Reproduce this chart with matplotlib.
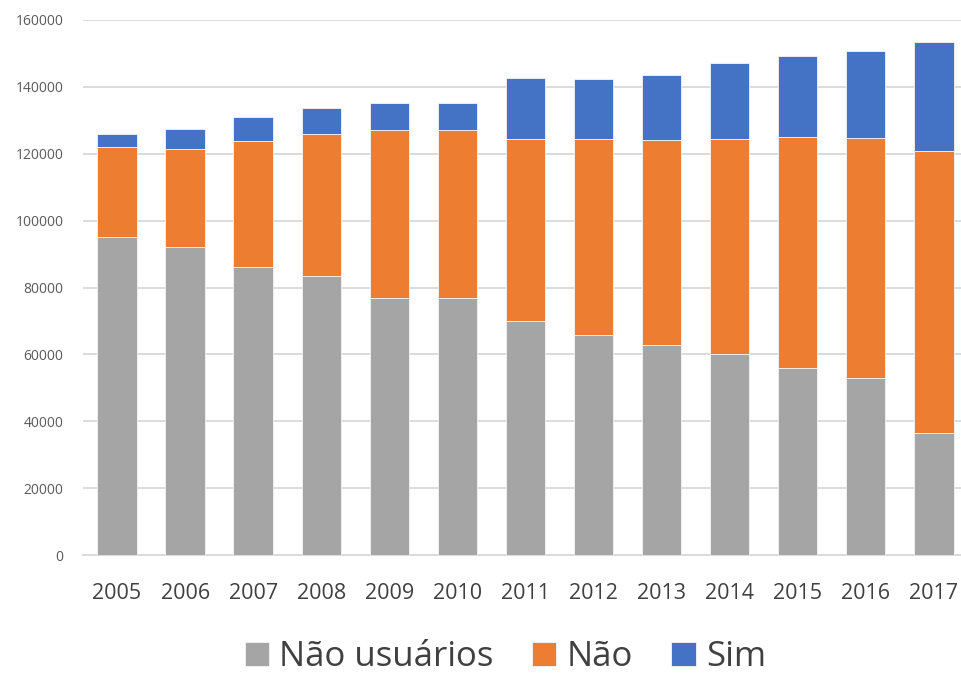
import numpy as np
import matplotlib.pyplot as plt

plt.rcParams['font.family'] = ['Open Sans', 'DejaVu Sans']

anos = ['2005', '2006', '2007', '2008', '2009', '2010', '2011',
        '2012', '2013', '2014', '2015', '2016', '2017']
nao_usuarios = [95100, 92000, 86100, 83500, 76800, 76800, 70000,
                65800, 62700, 60200, 55800, 53000, 36400]
nao = [26800, 29400, 37600, 42300, 50200, 50200, 54300,
       58600, 61500, 64200, 69300, 71700, 84400]
sim = [3900, 6000, 7400, 8000, 8300, 8300, 18300,
       17900, 19300, 22700, 24200, 25900, 32500]

cores = ['#A5A5A5', '#ED7D31', '#4472C4']

fig = plt.figure(figsize=(9.61, 6.73), dpi=100)
ax = fig.add_axes([0.0864, 0.1753, 0.9136, 0.795])

x = np.arange(len(anos))
base = np.zeros(len(anos))
for vals, nome, cor in zip([nao_usuarios, nao, sim], ['Não usuários', 'Não', 'Sim'], cores):
    ax.bar(x, vals, width=0.58, bottom=base, color=cor, label=nome,
           edgecolor='#f4f4f4', linewidth=0.6, zorder=3)
    base += np.array(vals)

ax.set_xlim(-0.5, 12.4)
ax.set_ylim(0, 160000)
ax.set_yticks(np.arange(0, 160001, 20000))
ax.set_xticks(x)
ax.set_xticklabels(anos)
ax.grid(axis='y', color='#D9D9D9', linewidth=1.3, zorder=0)
for s in ['top', 'right', 'left']:
    ax.spines[s].set_visible(False)
ax.spines['bottom'].set_color('#D9D9D9')
ax.spines['bottom'].set_linewidth(1.3)
ax.tick_params(axis='y', length=0, labelsize=10, labelcolor='#595959', pad=14)
ax.tick_params(axis='x', length=0, labelsize=15.5, labelcolor='#404040', pad=20)

fig.legend(loc='center', bbox_to_anchor=(0.526, 0.024), ncol=3, frameon=False,
           fontsize=25, handlelength=0.7, handleheight=0.7, handletextpad=0.3,
           columnspacing=1.1, labelcolor='#404040')

plt.savefig('out.png', dpi=100)
